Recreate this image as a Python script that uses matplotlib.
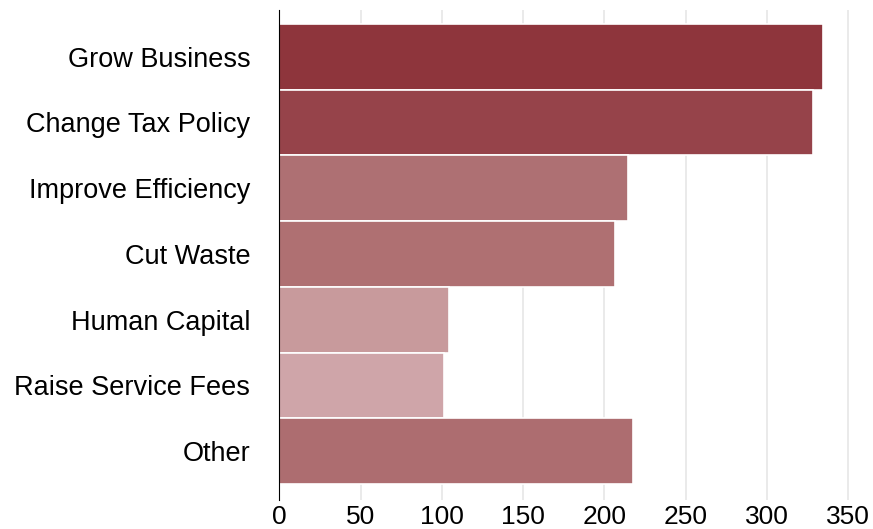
import matplotlib
matplotlib.use("Agg")
from matplotlib import pyplot as plt

categories = ["Grow Business", "Change Tax Policy", "Improve Efficiency", "Cut Waste",
              "Human Capital", "Raise Service Fees", "Other"]
values = [334.5, 328.5, 214.5, 206.5, 104.5, 101.5, 217.5]
colors = ["#8e353c", "#96434a", "#ae7073", "#af7072", "#c89a9c", "#cfa5a9", "#ad6d70"]

plt.rcParams["font.family"] = ["Liberation Sans", "DejaVu Sans"]

fig = plt.figure(figsize=(8.73, 5.29), dpi=100)
ax = fig.add_axes([0.32, 0.055, 0.661, 0.926])

pos = list(range(len(categories)))
ax.barh(pos, values, height=1.0, color=colors, edgecolor="white", linewidth=1.2, zorder=2)

ax.set_yticks(pos)
ax.set_yticklabels(categories, fontsize=19.5)
ax.set_ylim(len(categories) - 0.5 + 0.24, -0.5 - 0.21)
ax.set_xlim(0, 355)
ax.set_xticks(range(0, 351, 50))
ax.tick_params(axis="x", length=0, labelsize=19, pad=4)
ax.tick_params(axis="y", length=0, pad=21)

ax.grid(True, axis="x", color="#e6e6e6", linewidth=1.2, zorder=0)
ax.set_axisbelow(True)
for side in ["top", "right", "bottom"]:
    ax.spines[side].set_visible(False)
ax.spines["left"].set_color("black")
ax.spines["left"].set_zorder(3)

fig.savefig("out.png", dpi=100)
